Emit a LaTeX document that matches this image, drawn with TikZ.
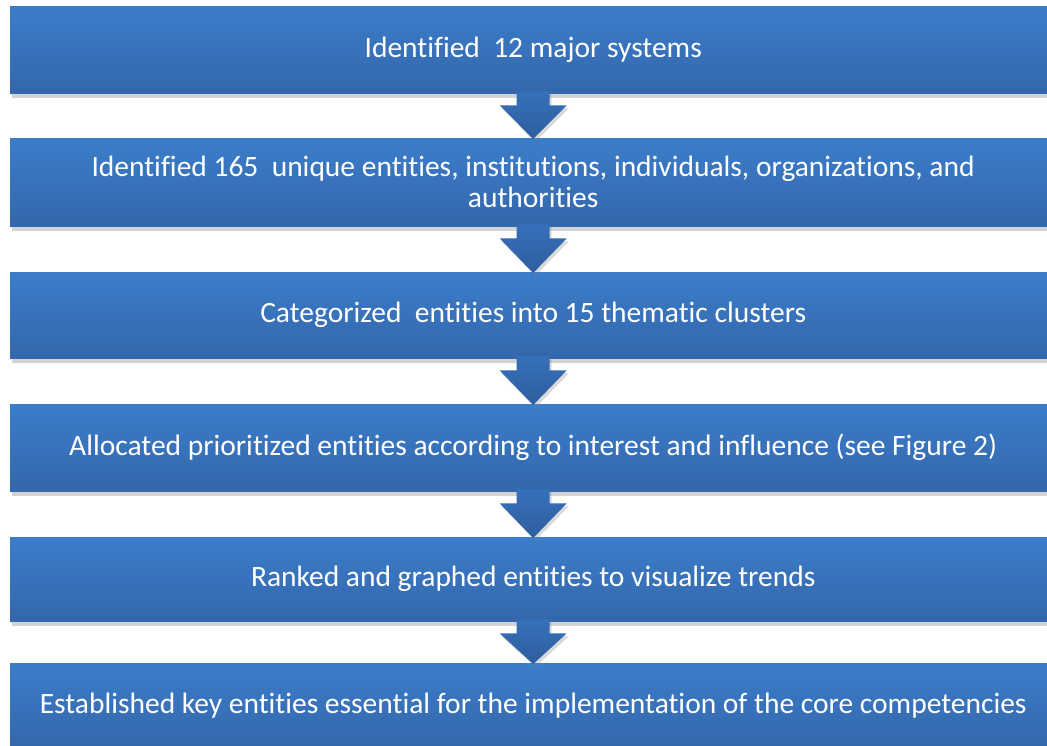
\documentclass[tikz,border=0pt]{standalone}
\usepackage{fontspec}
\setmainfont{Carlito}[Ligatures=NoCommon]
\usepackage{xcolor}
\usetikzlibrary{calc}
\usetikzlibrary{shadows}

\definecolor{boxtop}{HTML}{3B7DCA}
\definecolor{boxbottom}{HTML}{3467AB}
\definecolor{arrowtop}{HTML}{3670BA}
\definecolor{arrowbottom}{HTML}{2E5E9E}

\tikzset{
    stepbox/.style={anchor=north west,minimum width=1046pt,minimum height=87pt,inner sep=0pt,
        top color=boxtop,bottom color=boxbottom,draw=none,text=white,align=center,
        font=\fontsize{29.5}{31}\selectfont,
        drop shadow={shadow xshift=1.5pt,shadow yshift=-5pt,opacity=0.35}},
    arrowfill/.style={top color=arrowtop,bottom color=arrowbottom,
        drop shadow={shadow xshift=2pt,shadow yshift=-3pt,opacity=0.3}}
}

% block arrow from the bottom of one box to the top of the next
\newcommand{\flowarrow}[2]{%
    \path[arrowfill] ($(#1.south)+(-16.5,-2)$) -- ($(#1.south)+(-16.5,12)$) -- ($(#1.south)+(-33.5,12)$)
        -- ($(#2.north)+(0,1)$) -- ($(#1.south)+(33.5,12)$) -- ($(#1.south)+(16.5,12)$)
        -- ($(#1.south)+(16.5,-2)$) -- cycle;}

\begin{document}
\begin{tikzpicture}[x=1pt,y=-1pt]
        \useasboundingbox (0,0) rectangle (1047,746);

        \node[stepbox] (systems) at (10,6) {Identified~ 12 major systems};
        \node[stepbox,minimum height=88pt] (entities) at (10,138) {Identified 165~ unique entities, institutions, individuals, organizations, and\\authorities};
        \node[stepbox,minimum height=86pt] (clusters) at (10,272) {Categorized~ entities into 15 thematic clusters};
        \node[stepbox] (allocated) at (10,404) {Allocated prioritized entities according to interest and influence (see Figure 2)};
        \node[stepbox,minimum height=84pt] (ranked) at (10,537) {Ranked and graphed entities to visualize trends};
        \node[stepbox,minimum height=85pt] (key) at (10,663) {Established key entities essential for the implementation of the core competencies};

        \flowarrow{systems}{entities}
        \flowarrow{entities}{clusters}
        \flowarrow{clusters}{allocated}
        \flowarrow{allocated}{ranked}
        \flowarrow{ranked}{key}
    \end{tikzpicture}
\end{document}
